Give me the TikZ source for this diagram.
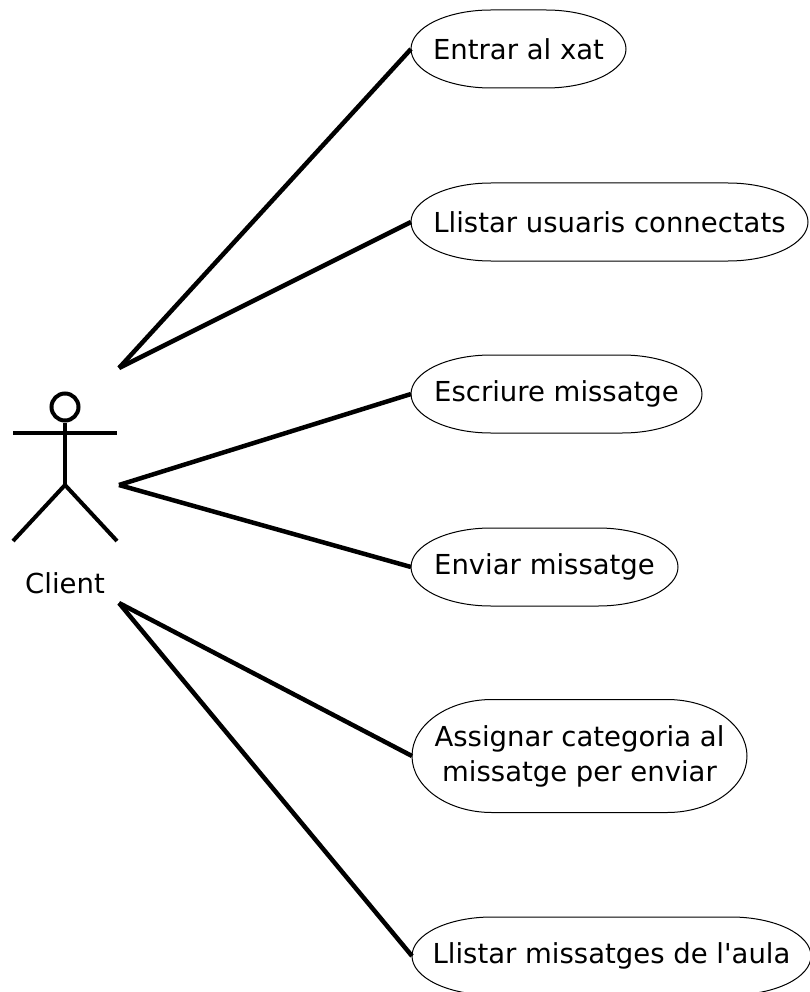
\documentclass[tikz,border=0pt]{standalone}
\usepackage{fontspec}
\setmainfont{DejaVu Sans}
\usetikzlibrary{calc}
\tikzset{
    usecase/.style={inner sep=0pt, outer sep=0pt, minimum height=78pt, align=center, font=\fontsize{27.5}{35}\selectfont},
    actorline/.style={line width=4pt},
    assoc/.style={line width=4.5pt},
    contour/.style={line width=1pt}
}
% outline of a use case: flat top and bottom, elliptical ends
\newcommand{\contorn}[2]{
    \draw[contour] (#1.west) arc[start angle=180, end angle=90, x radius=80pt, y radius=#2pt]
        -- ($(#1.north east)+(-80pt,0)$) arc[start angle=90, end angle=-90, x radius=80pt, y radius=#2pt]
        -- ($(#1.south west)+(80pt,0)$) arc[start angle=270, end angle=180, x radius=80pt, y radius=#2pt] -- cycle;
}
\begin{document}
\begin{tikzpicture}[x=1pt,y=-1pt]
    \useasboundingbox (0,0) rectangle (810,992);

    \node[usecase, minimum width=215pt] (entrar) at (518.5,49) {Entrar al xat};
    \node[usecase, minimum width=397pt] (llistarusuaris) at (609.5,222) {Llistar usuaris connectats};
    \node[usecase, minimum width=291pt] (escriure) at (556.5,394) {Escriure missatge};
    \node[usecase, minimum width=267pt] (enviar) at (544.5,567) {Enviar missatge};
    \node[usecase, minimum width=335pt, minimum height=113pt] (assignar) at (579.5,756) {Assignar categoria al\\missatge per enviar};
    \node[usecase, minimum width=399pt] (llistarmissatges) at (611.5,956) {Llistar missatges de l\textquotesingle aula};

    \contorn{entrar}{39}
    \contorn{llistarusuaris}{39}
    \contorn{escriure}{39}
    \contorn{enviar}{39}
    \contorn{assignar}{56.5}
    \contorn{llistarmissatges}{39}

    \node[circle, draw, line width=4pt, inner sep=0pt, minimum size=27pt] (cap) at (65,407) {};
    \node[inner sep=0pt, font=\fontsize{27.5}{35}\selectfont] (client) at (65,583) {Client};
    \coordinate (cos) at (65,485);
    \coordinate (bracesq) at (13,433);
    \coordinate (bracdr) at (117,433);
    \coordinate (camaesq) at (13,541);
    \coordinate (camadr) at (117,541);
    \coordinate (dalt) at (119,368);
    \coordinate (mig) at (119,485);
    \coordinate (baix) at (119,603);

    \draw[actorline] (cap) -- (cos);
    \draw[actorline] (bracesq) -- (bracdr);
    \draw[actorline] (camaesq) -- (cos) -- (camadr);

    \draw[assoc] (dalt) -- (entrar.west);
    \draw[assoc] (dalt) -- (llistarusuaris.west);
    \draw[assoc] (mig) -- (escriure.west);
    \draw[assoc] (mig) -- (enviar.west);
    \draw[assoc] (baix) -- (assignar.west);
    \draw[assoc] (baix) -- (llistarmissatges.west);
\end{tikzpicture}
\end{document}
